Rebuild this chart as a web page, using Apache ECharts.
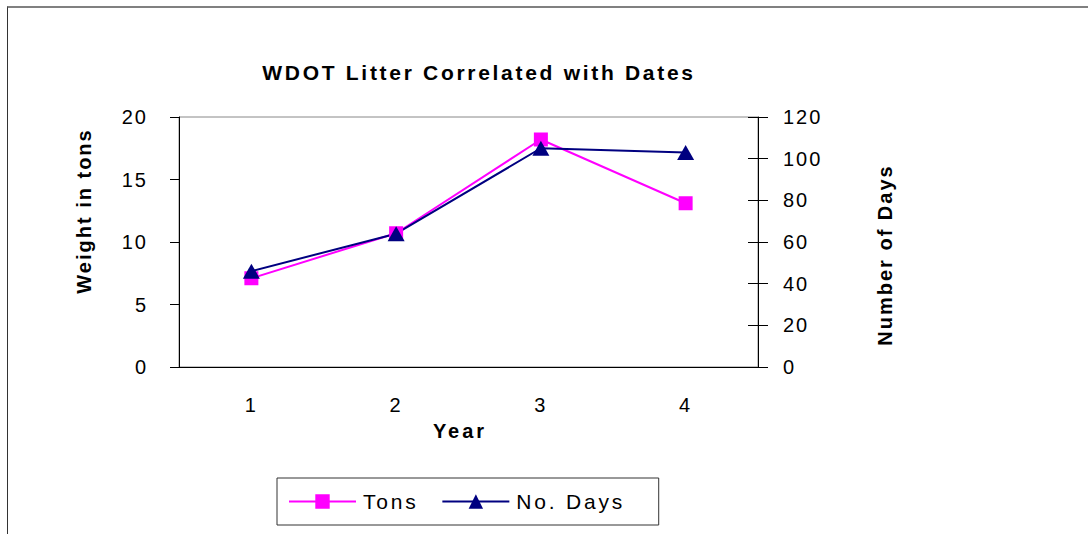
<!DOCTYPE html>
<html>
<head>
    <meta charset="UTF-8">
    <title>WDOT Litter Correlated with Dates</title>
    <style>
        body { margin: 0; background: #fff; }
        #frame { position: absolute; left: 7px; top: 6px; width: 1081px; height: 528px;
                 border-top: 2px solid #808080; border-left: 1px solid #333; box-sizing: border-box; }
        #main { position: absolute; left: 0; top: 0; width: 1088px; height: 534px; }
        #main text { letter-spacing: 2px; }
    </style>
</head>
<body>
    <div id="frame"></div>
    <div id="main"></div>
    <script src="https://cdn.jsdelivr.net/npm/echarts@6/dist/echarts.min.js"></script>
    <script type="text/javascript">
        // data
        var years = ['1', '2', '3', '4'];
        var tons = [7.1, 10.7, 18.2, 13.1];
        var days = [46, 64, 105, 103];

        var font = 'Liberation Sans';
        var titleText = 'WDOT Litter Correlated with Dates';
        // wider letter spacing for a few texts (the original is set loosely)
        var spacing = {};
        spacing[titleText] = '2.7px';
        spacing['Year'] = '3px';
        spacing['Tons'] = '2.8px';
        spacing['No. Days'] = '2.8px';

        var myChart = echarts.init(document.getElementById('main'), null, { renderer: 'svg' });

        var option = {
            animation: false,
            title: {
                text: titleText,
                left: 474,
                textAlign: 'center',
                top: 57,
                textStyle: { fontFamily: font, fontSize: 21, fontWeight: 'bold', color: '#000' }
            },
            legend: {
                left: 277,
                top: 478,
                padding: [13, 56, 13, 11],
                itemWidth: 67,
                itemHeight: 18,
                itemGap: 34,
                borderColor: '#333',
                borderWidth: 1,
                lineStyle: { width: 2 },
                textStyle: { fontFamily: font, fontSize: 21, color: '#000', padding: [0, 0, 0, 2] },
                data: ['Tons', 'No. Days']
            },
            grid: {
                left: 179, right: 330, top: 117, bottom: 167,
                show: true, borderColor: '#888', borderWidth: 1
            },
            xAxis: [{
                type: 'category',
                data: years,
                name: 'Year',
                nameLocation: 'middle',
                nameGap: 54,
                nameTextStyle: { fontFamily: font, fontSize: 20, fontWeight: 'bold', color: '#000', padding: [0, 17, 0, 0] },
                axisLine: { lineStyle: { color: '#000', width: 1 } },
                axisTick: { length: 8, lineStyle: { color: '#000' } },
                axisLabel: { margin: 28, fontFamily: font, fontSize: 20, color: '#000' },
                splitLine: { show: false }
            }, {
                type: 'category',
                data: years,
                position: 'bottom',
                axisLine: { show: false },
                axisTick: { inside: true, length: 7, lineStyle: { color: '#000' } },
                axisLabel: { show: false },
                splitLine: { show: false }
            }],
            yAxis: [{
                type: 'value',
                min: 0, max: 20, interval: 5,
                position: 'left',
                name: 'Weight in tons',
                nameLocation: 'middle',
                nameRotate: 90,
                nameGap: 85,
                nameTextStyle: { fontFamily: font, fontSize: 20, fontWeight: 'bold', color: '#000', padding: [0, 0, 0, 62] },
                axisLine: { show: true, lineStyle: { color: '#000', width: 1 } },
                axisTick: { show: true, length: 9, lineStyle: { color: '#000' } },
                axisLabel: { margin: 31, fontFamily: font, fontSize: 20, color: '#000' },
                splitLine: { show: false }
            }, {
                type: 'value',
                min: 0, max: 120, interval: 20,
                position: 'right',
                name: 'Number of Days',
                nameLocation: 'middle',
                nameRotate: 90,
                nameGap: 117,
                nameTextStyle: { fontFamily: font, fontSize: 20, fontWeight: 'bold', color: '#000', padding: [0, 26, 0, 0] },
                axisLine: { show: true, lineStyle: { color: '#000', width: 1 } },
                axisTick: { show: true, length: 10, lineStyle: { color: '#000' } },
                axisLabel: { margin: 25, fontFamily: font, fontSize: 20, color: '#000' },
                splitLine: { show: false }
            }, {
                type: 'value',
                min: 0, max: 120, interval: 20,
                position: 'right',
                axisLine: { show: false },
                axisTick: { show: true, inside: true, length: 10, lineStyle: { color: '#000' } },
                axisLabel: { show: false },
                splitLine: { show: false }
            }],
            series: [{
                name: 'Tons',
                type: 'line',
                yAxisIndex: 0,
                data: tons,
                symbol: 'rect',
                symbolSize: 14,
                itemStyle: { color: '#FF00FF' },
                lineStyle: { color: '#FF00FF', width: 2 }
            }, {
                name: 'No. Days',
                type: 'line',
                yAxisIndex: 1,
                data: days,
                symbol: 'triangle',
                symbolSize: [17, 15],
                itemStyle: { color: '#000080' },
                lineStyle: { color: '#000080', width: 2 }
            }]
        };

        function applySpacing() {
            document.querySelectorAll('#main text').forEach(function (t) {
                var s = spacing[t.textContent];
                if (s) t.style.letterSpacing = s;
            });
        }
        myChart.on('finished', applySpacing);
        myChart.setOption(option);
        applySpacing();
    </script>
</body>
</html>
